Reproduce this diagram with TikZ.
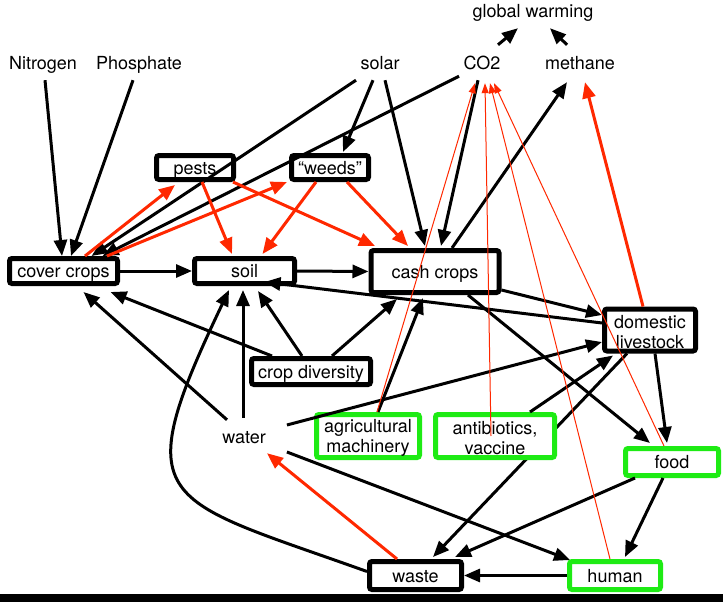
\documentclass[tikz,border=0pt]{standalone}
\usepackage{fontspec}
\setmainfont{TeX Gyre Heros}
\usetikzlibrary{arrows.meta}
\definecolor{agred}{RGB}{255,40,0}
\definecolor{aggreen}{RGB}{30,235,20}

\begin{document}
\begin{tikzpicture}[x=1pt,y=-1pt,font=\fontsize{18}{20}\selectfont,
    box/.style={draw,line width=5pt,rounded corners=2.5pt,fill=white,inner sep=0pt,align=center},
    gbox/.style={box,draw=aggreen},
    one/.style={text height=14pt,text depth=1pt},
    lbl/.style={inner sep=0pt,text height=14pt,text depth=2pt},
    flow/.style={-{Triangle[length=16pt,width=13pt]},line width=3pt},
    harm/.style={flow,draw=agred},
    emit/.style={-{Triangle[length=10pt,width=7pt]},line width=1pt,draw=agred}]
  \useasboundingbox (0,0) rectangle (723,602);
  \fill (0,594) rectangle (723,602);
  % plain labels
  \node[lbl] (warm) at (533,12) {global warming};
  \node[lbl] (nitro) at (43,64) {Nitrogen};
  \node[lbl] (phos) at (139,64) {Phosphate};
  \node[lbl] (solar) at (380,64) {solar};
  \node[lbl] (co2) at (482,64) {CO2};
  \node[lbl] (meth) at (580,64) {methane};
  \node[lbl] (water) at (244,437) {water};
  % boxes
  \node[box,one,minimum width=77pt,minimum height=24pt] (pests) at (195,167.5) {pests};
  \node[box,one,minimum width=77pt,minimum height=24pt] (weeds) at (330,167.5) {“weeds”};
  \node[box,one,minimum width=108pt,minimum height=25pt] (cover) at (63.5,271) {cover crops};
  \node[box,one,minimum width=100pt,minimum height=25pt] (soil) at (244.5,271) {soil};
  \node[box,one,minimum width=128pt,minimum height=42pt] (cash) at (435,271.5) {cash crops};
  \node[box,minimum width=91pt,minimum height=42pt] (stock) at (650,330) {\rule{0pt}{17pt}domestic\\livestock};
  \node[box,one,minimum width=119pt,minimum height=26pt] (div) at (311,371.5) {crop diversity};
  \node[gbox,minimum width=103pt,minimum height=43pt] (mach) at (368,436) {\rule{0pt}{17pt}agricultural\\machinery};
  \node[gbox,one,minimum width=93pt,minimum height=27pt] (food) at (672,462) {food};
  \node[box,one,minimum width=92pt,minimum height=28pt] (waste) at (415.5,575.5) {waste};
  \node[gbox,one,minimum width=91pt,minimum height=28pt] (human) at (615,575.5) {human};
  % runs behind the antibiotics box
  \draw[flow] ([xshift=-23pt]stock.south) -- ([xshift=17.5pt,yshift=2pt]waste.north);
  \node[gbox,minimum width=119pt,minimum height=43pt] (anti) at (495,436) {\rule{0pt}{17pt}antibiotics,\\vaccine};

  \draw[flow] ([xshift=16pt,yshift=11pt]co2.north) -- ([xshift=-15pt,yshift=-8pt]warm.south);
  \draw[flow] ([xshift=-13pt,yshift=11pt]meth.north) -- ([xshift=17pt,yshift=-8pt]warm.south);
  \draw[flow] ([xshift=2pt,yshift=-8pt]nitro.south) -- ([xshift=-1.5pt]cover.north);
  \draw[flow] ([xshift=-6pt,yshift=-8pt]phos.south) -- ([xshift=7.5pt]cover.north);
  \draw[flow] ([xshift=-24pt,yshift=-8pt]solar.south) -- ([xshift=28pt]cover.north);
  \draw[flow] ([xshift=-23pt,yshift=-4pt]co2.south) -- ([xshift=39pt]cover.north);
  \draw[flow] ([xshift=-7pt,yshift=-8pt]solar.south) -- ([xshift=13pt,yshift=1pt]weeds.north);
  \draw[flow] ([xshift=5pt,yshift=-8pt]solar.south) -- ([xshift=-10pt,yshift=2pt]cash.north);
  \draw[flow] ([xshift=-4pt,yshift=-8pt]co2.south) -- ([xshift=6pt,yshift=2pt]cash.north);
  \draw[flow] ([xshift=17pt]cash.north) -- ([xshift=-13pt,yshift=-10pt]meth.south);
  \draw[flow] (cover.east) -- (soil.west);
  \draw[flow] (soil.east) -- (cash.west);
  \draw[flow] ([yshift=-18.5pt]cash.east) -- ([yshift=15pt]stock.west);
  \draw[flow] ([yshift=7pt]stock.west) -- ([xshift=20pt,yshift=4pt]soil.south);
  \draw[flow] ([xshift=-39pt]div.north) -- ([xshift=47pt,yshift=-6pt]cover.south);
  \draw[flow] ([xshift=-9pt]div.north) -- ([xshift=13.5pt,yshift=-5pt]soil.south);
  \draw[flow] ([xshift=21pt]div.north) -- ([xshift=-38pt,yshift=-4pt]cash.south);
  \draw[flow] ([xshift=-17pt,yshift=9pt]water.north) -- ([xshift=20pt,yshift=-6pt]cover.south);
  \draw[flow] ([xshift=-1pt,yshift=11pt]water.north) -- ([xshift=-1.5pt,yshift=-4pt]soil.south);
  \draw[flow] ([yshift=4pt]waste.west) .. controls (159,497) and (126,506) .. ([xshift=-15.5pt,yshift=-4pt]soil.south);
  \draw[flow] ([xshift=21pt,yshift=12pt]water.east) -- ([yshift=-12pt]stock.west);
  \draw[flow] ([xshift=21pt,yshift=-15pt]water.east) -- ([xshift=3pt,yshift=-1pt]human.north west);
  \draw[flow] ([xshift=10pt]mach.north) -- ([xshift=-12pt,yshift=-3pt]cash.south);
  \draw[flow] ([xshift=35pt]anti.north) -- ([xshift=-37pt,yshift=-2pt]stock.south);
  \draw[flow] ([xshift=33pt]cash.south) -- ([xshift=-22pt,yshift=3pt]food.north);
  \draw[flow] ([xshift=5pt]stock.south) -- ([xshift=-5pt,yshift=3pt]food.north);
  \draw[flow] ([xshift=-37pt]food.south) -- ([xshift=39.5pt,yshift=2pt]waste.north);
  \draw[flow] ([xshift=-9pt]food.south) -- ([xshift=10pt,yshift=2pt]human.north);
  \draw[flow] (human.west) -- (waste.east);
  % pests, weeds and methane
  \draw[harm] ([xshift=21.5pt]cover.north) -- ([xshift=-20pt,yshift=-3pt]pests.south);
  \draw[harm] ([xshift=43.5pt]cover.north) -- ([xshift=-2pt]weeds.south west);
  \draw[harm] ([xshift=7pt]pests.south) -- ([xshift=-12.5pt,yshift=2pt]soil.north);
  \draw[harm] ([xshift=-14pt]weeds.south) -- ([xshift=18pt,yshift=2pt]soil.north);
  \draw[harm] ([xshift=38pt]pests.south) -- ([xshift=-60pt,yshift=2pt]cash.north);
  \draw[harm] ([xshift=17pt]weeds.south) -- ([xshift=-27pt,yshift=2pt]cash.north);
  \draw[harm] ([xshift=-7pt]stock.north) -- ([xshift=5pt,yshift=-10pt]meth.south);
  \draw[harm] ([xshift=-18.5pt]waste.north) -- ([xshift=23pt,yshift=-8pt]water.south);
  % CO2 emissions
  \draw[emit] ([xshift=9pt]mach.north) -- ([xshift=-7pt,yshift=-11pt]co2.south);
  \draw[emit] ([xshift=-4pt]anti.center) -- ([xshift=3pt,yshift=-11pt]co2.south);
  \draw[emit] ([xshift=-5pt]human.north) -- ([xshift=8pt,yshift=-11pt]co2.south);
  \draw[emit] ([xshift=-8pt]food.north) -- ([xshift=12pt,yshift=-11pt]co2.south);
\end{tikzpicture}
\end{document}
